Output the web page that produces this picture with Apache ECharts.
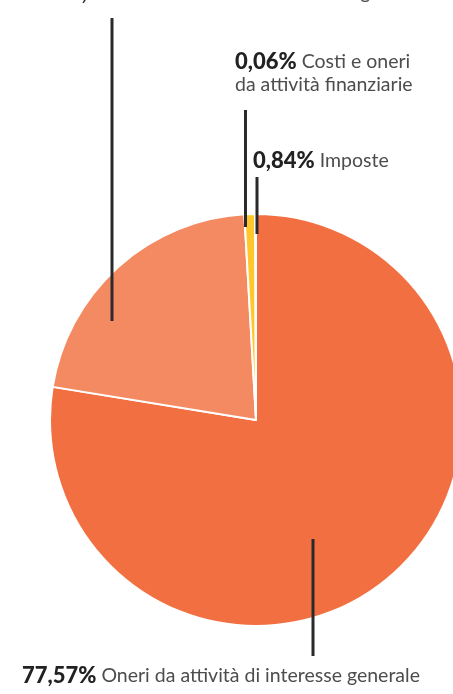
<!DOCTYPE html>
<html>
<head>
<meta charset="utf-8">
<script src="https://cdn.jsdelivr.net/npm/echarts@6/dist/echarts.min.js"></script>
<style>
html,body{margin:0;padding:0;background:#fff;}
#c{width:453px;height:694px;}
</style>
</head>
<body>
<div id="c"></div>
<script>
const categories = [
  'Oneri da attività di interesse generale',
  'Oneri da attività diverse e gestione',
  'Imposte',
  'Costi e oneri\nda attività finanziarie'
];
const values = [77.57, 21.53, 0.84, 0.06];
const valueLabels = ['77,57%', '21,53%', '0,84%', '0,06%'];
const colors = ['#F26F41', '#F48A62', '#FFC72C', '#F9B98F'];

// label anchors and leader lines (layout, pixels)
const layouts = [
  {x: 22, y: 676, line: [[313, 539], [313, 656]]},
  {x: 56, y: -7, line: [[112, 321], [112, 18]]},
  {x: 253, y: 161, line: [[257, 234], [257, 177]]},
  {x: 235, y: 73, line: [[245.5, 227], [245.5, 110]]}
];

const chart = echarts.init(document.getElementById('c'));
chart.setOption({
  animation: false,
  graphic: layouts.map(l => ({
    type: 'line', z: 100,
    shape: {x1: l.line[0][0], y1: l.line[0][1], x2: l.line[1][0], y2: l.line[1][1]},
    style: {stroke: '#2a2a2a', lineWidth: 3}
  })),
  series: [{
    type: 'pie',
    center: [256, 420],
    radius: [0, 206],
    startAngle: 90,
    clockwise: true,
    avoidLabelOverlap: false,
    itemStyle: {borderColor: '#fff', borderWidth: 2},
    data: values.map((v, i) => ({
      value: v,
      name: categories[i],
      itemStyle: {color: colors[i]}
    })),
    label: {
      show: true,
      formatter: p => '{b|' + valueLabels[p.dataIndex] + '}{n| ' + categories[p.dataIndex].replace('\n', '}\n{n|') + '}',
      fontFamily: 'Lato',
      rich: {
        b: {fontFamily: 'Lato', fontSize: 22, fontWeight: 900, color: '#222', lineHeight: 23},
        n: {fontFamily: 'Lato', fontSize: 19.5, color: '#4d4d4d', lineHeight: 23}
      }
    },
    labelLine: {show: false},
    labelLayout: p => {
      const l = layouts[p.dataIndex];
      return {
        x: l.x, y: l.y, align: 'left', verticalAlign: 'middle',
        hideOverlap: false, moveOverlap: false
      };
    }
  }]
});
</script>
</body>
</html>
